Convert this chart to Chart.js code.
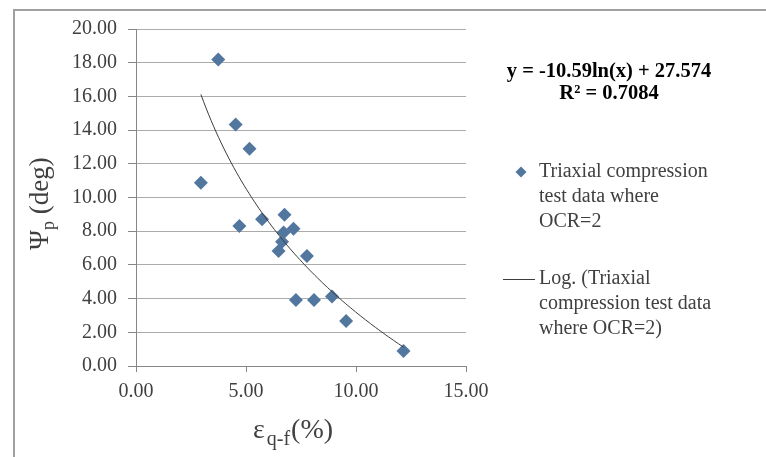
<!DOCTYPE html>
<html>
<head>
<meta charset="utf-8">
<script src="https://cdn.jsdelivr.net/npm/chart.js@4/dist/chart.umd.min.js"></script>
<style>
  html, body { margin: 0; padding: 0; background: #ffffff; }
  canvas { display: block; }
</style>
</head>
<body>
<canvas id="chart" width="766" height="457"></canvas>
<script>
// Axial strain at peak (%) and peak dilation angle (deg), triaxial tests with OCR = 2
const strainAtPeak  = [3.74, 4.53, 5.16, 2.95, 4.70, 5.73, 6.75, 7.16, 6.71, 6.64, 6.48, 7.77, 7.27, 8.09, 8.91, 9.55, 12.16];
const dilationAngle = [18.19, 14.33, 12.89, 10.87, 8.31, 8.71, 8.98, 8.14, 7.92, 7.38, 6.83, 6.53, 3.92, 3.92, 4.12, 2.67, 0.89];

// Logarithmic trendline y = a ln(x) + b as reported on the chart
const fitSlope = -10.59;
const fitIntercept = 27.574;
const fitR2 = 0.7084;

const xTickValues = [0, 5, 10, 15];
const yTickValues = [0, 2, 4, 6, 8, 10, 12, 14, 16, 18, 20];

const seriesLines = ['Triaxial compression', 'test data where', 'OCR=2'];
const trendLines  = ['Log. (Triaxial', 'compression test data', 'where OCR=2)'];

const SERIF = "'Liberation Serif', 'Times New Roman', serif";
const MARKER = '#52779f';
const TEXT = '#404040';

const points = strainAtPeak.map((x, i) => ({ x: x, y: dilationAngle[i] }));

// Trendline sampled across the range of the measured strains
const xMin = Math.min(...strainAtPeak);
const xMax = Math.max(...strainAtPeak);
const trend = [];
for (let i = 0; i <= 80; i++) {
  const x = xMin + (xMax - xMin) * i / 80;
  trend.push({ x: x, y: fitSlope * Math.log(x) + fitIntercept });
}

const decor = {
  id: 'decor',
  beforeDraw(chart) {
    const ctx = chart.ctx;
    ctx.save();
    ctx.fillStyle = '#ffffff';
    ctx.fillRect(0, 0, chart.width, chart.height);
    ctx.strokeStyle = '#a0a0a0';
    ctx.lineWidth = 2;
    ctx.strokeRect(14, 10, 900, 600);
    ctx.restore();
  },
  afterDraw(chart) {
    const ctx = chart.ctx;
    ctx.save();
    ctx.fillStyle = TEXT;

    // y-axis title: Ψp (deg)
    ctx.save();
    ctx.translate(48, 250);
    ctx.rotate(-Math.PI / 2);
    ctx.textAlign = 'left';
    ctx.textBaseline = 'alphabetic';
    ctx.font = '27px ' + SERIF;
    ctx.fillText('Ψ', 0, 0);
    let w = ctx.measureText('Ψ').width;
    ctx.font = '18px ' + SERIF;
    ctx.fillText('p', w, 6);
    w += ctx.measureText('p').width;
    ctx.font = '27px ' + SERIF;
    ctx.fillText(' (deg)', w, 0);
    ctx.restore();

    // x-axis title: εq-f(%)
    ctx.textAlign = 'left';
    ctx.textBaseline = 'alphabetic';
    let x = 253;
    ctx.font = '28px ' + SERIF;
    ctx.fillText('ε', x, 438);
    x += ctx.measureText('ε').width + 2;
    ctx.font = '20px ' + SERIF;
    ctx.fillText('q-f', x, 445);
    x += ctx.measureText('q-f').width + 1;
    ctx.font = '28px ' + SERIF;
    ctx.fillText('(%)', x, 438);

    // Trendline equation
    ctx.fillStyle = '#000000';
    ctx.textAlign = 'center';
    ctx.textBaseline = 'middle';
    ctx.font = 'bold 20.5px ' + SERIF;
    ctx.fillText('y = ' + fitSlope.toFixed(2) + 'ln(x) + ' + fitIntercept.toFixed(3), 609, 72);
    ctx.fillText('R² = ' + fitR2.toFixed(4), 609, 94);

    // Legend
    ctx.fillStyle = MARKER;
    ctx.beginPath();
    ctx.moveTo(521, 166.5);
    ctx.lineTo(526.5, 172);
    ctx.lineTo(521, 177.5);
    ctx.lineTo(515.5, 172);
    ctx.closePath();
    ctx.fill();

    ctx.strokeStyle = '#3c3c3c';
    ctx.lineWidth = 1;
    ctx.beginPath();
    ctx.moveTo(503, 279.5);
    ctx.lineTo(535, 279.5);
    ctx.stroke();

    ctx.fillStyle = TEXT;
    ctx.textAlign = 'left';
    ctx.font = '20px ' + SERIF;
    seriesLines.forEach((t, i) => ctx.fillText(t, 539, 172 + i * 25));
    trendLines.forEach((t, i) => ctx.fillText(t, 539, 279 + i * 25));
    ctx.restore();
  }
};

new Chart(document.getElementById('chart'), {
  type: 'scatter',
  data: {
    datasets: [
      {
        label: trendLines.join(' '),
        data: trend,
        showLine: true,
        borderColor: '#3c3c3c',
        borderWidth: 1,
        pointRadius: 0,
        fill: false,
        tension: 0,
        order: 0
      },
      {
        label: seriesLines.join(' '),
        data: points,
        pointStyle: 'rectRot',
        pointRadius: 7,
        backgroundColor: MARKER,
        borderColor: MARKER,
        borderWidth: 0,
        order: 1
      }
    ]
  },
  options: {
    responsive: false,
    animation: false,
    events: [],
    layout: { padding: { left: 0, top: 29, right: 300, bottom: 0 } },
    plugins: { legend: { display: false }, tooltip: { enabled: false } },
    scales: {
      x: {
        type: 'linear',
        min: 0,
        max: 15,
        afterBuildTicks(scale) { scale.ticks = xTickValues.map(v => ({ value: v })); },
        ticks: {
          callback: v => v.toFixed(2),
          font: { family: SERIF, size: 20 },
          color: TEXT,
          padding: 8,
          maxRotation: 0,
          autoSkip: false
        },
        grid: { drawOnChartArea: false, drawTicks: true, tickLength: 6, color: '#868686' },
        border: { color: '#868686', width: 1 },
        afterFit(scale) { scale.height = 91; }
      },
      y: {
        type: 'linear',
        min: 0,
        max: 20,
        afterBuildTicks(scale) { scale.ticks = yTickValues.map(v => ({ value: v })); },
        ticks: {
          callback: v => v.toFixed(2),
          font: { family: SERIF, size: 20 },
          color: TEXT,
          padding: 11,
          autoSkip: false
        },
        grid: { color: '#ababab', tickLength: 8, tickColor: '#868686' },
        border: { color: '#868686', width: 1 },
        afterFit(scale) { scale.width = 136; }
      }
    }
  },
  plugins: [decor]
});
</script>
</body>
</html>
